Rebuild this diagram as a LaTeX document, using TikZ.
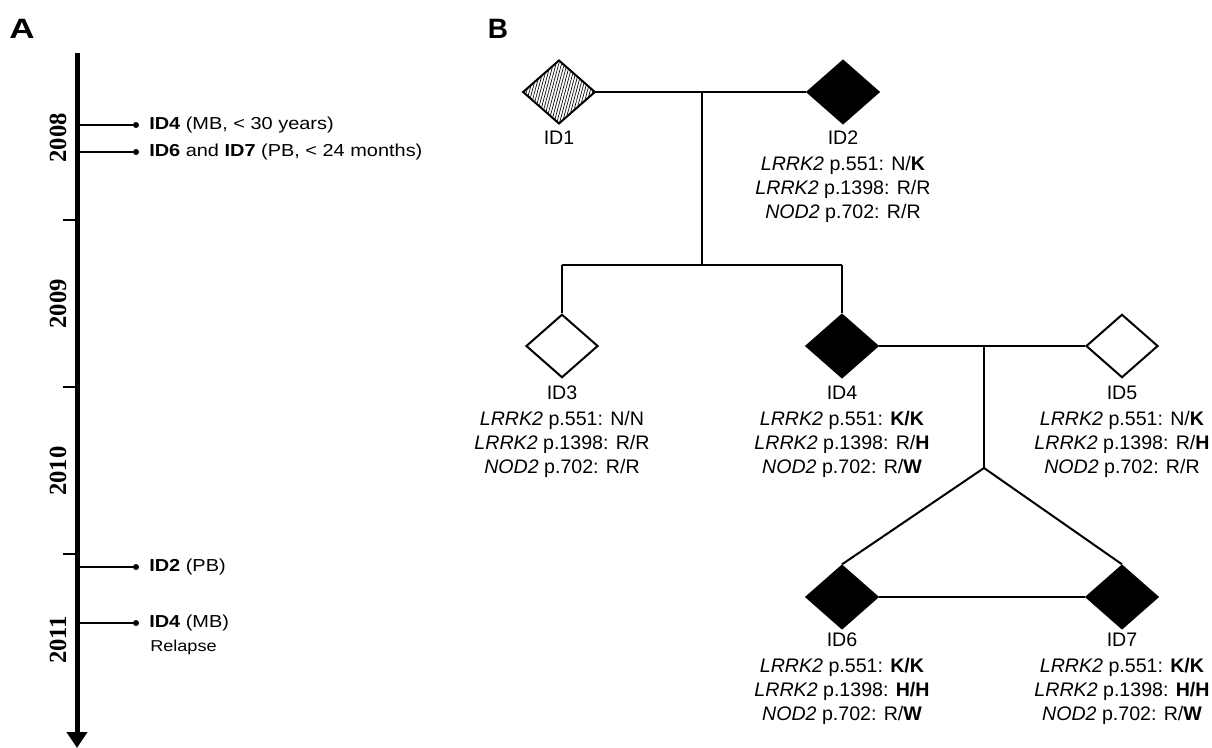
\documentclass[tikz,border=0pt]{standalone}
\usepackage{fontspec}
\setmainfont{Liberation Sans}
\newfontfamily\yearfont{Liberation Serif}
\newfontfamily\tlfont{Liberation Sans}[FakeStretch=1.15]
\newfontfamily\pafont{Liberation Sans}[FakeStretch=1.25]
\usetikzlibrary{shapes.geometric,arrows.meta,patterns.meta}
\begin{document}
\begin{tikzpicture}[x=0.75pt,y=-0.75pt,
  ind/.style={diamond,draw,line width=1.5pt,minimum width=54pt,minimum height=47.5pt,inner sep=0pt},
  aff/.style={ind,fill=black},
  unaff/.style={ind,fill=white},
  hatch/.style={ind,pattern={Lines[angle=75,distance=2pt,line width=0.5pt]}},
  rel/.style={line width=1.5pt},
  lbl/.style={font=\fontsize{14.7}{18}\selectfont,align=center,inner sep=0pt,anchor=north},
  evt/.style={font=\tlfont\fontsize{13}{15}\selectfont,inner sep=0pt,anchor=west},
  year/.style={font=\yearfont\bfseries\fontsize{18.5}{20}\selectfont,rotate=90,inner sep=0pt},
  panel/.style={font=\bfseries\fontsize{21}{24}\selectfont,inner sep=0pt},
  dot/.style={circle,fill=black,inner sep=0pt,minimum size=4.5pt},
  evline/.style={line width=0.8pt},
  tick/.style={line width=1.2pt}
]
\useasboundingbox (0,0) rectangle (1212,748);

% panel letters
\node[panel,font=\pafont\bfseries\fontsize{21}{24}\selectfont] (pA) at (22,29) {A};
\node[panel] (pB) at (498,29) {B};

% timeline
\coordinate (ttop) at (77,53);
\coordinate (tbot) at (77,748);
\draw[line width=3.75pt,-{Triangle[width=15pt,length=12pt]}] (ttop) -- (tbot);
\foreach \y/\n in {220/k1,387/k2,554/k3}{
  \coordinate (\n) at (63,\y);
  \draw[tick] (\n) -- (ttop |- \n);
}
\node[year] (y8) at (58,138) {2008};
\node[year] (y9) at (58,304) {2009};
\node[year] (y10) at (58,471) {2010};
\node[year] (y11) at (58,640) {2011};

\foreach \y/\n in {125/e1,152/e2,567/e3,623/e4}{
  \coordinate (\n a) at (77,\y);
  \node[dot] (\n) at (136,\y) {};
  \draw[evline] (\n a) -- (\n);
}
\node[evt] (t1) at (149,125) {\textbf{ID4} (MB, < 30 years)};
\node[evt] (t2) at (149,152) {\textbf{ID6} and \textbf{ID7} (PB, < 24 months)};
\node[evt] (t3) at (149,567) {\textbf{ID2} (PB)};
\node[evt] (t4) at (149,623) {\textbf{ID4} (MB)};
\node[evt,font=\tlfont\fontsize{11.8}{13}\selectfont] (t5) at (150,647) {Relapse};

% pedigree
\node[hatch] (id1) at (559,92) {};
\node[aff] (id2) at (843,92) {};
\draw[rel] (id1) -- (id2);
\coordinate (m12) at (702,92);
\coordinate (s1) at (702,265);
\draw[rel] (m12) -- (s1);
\coordinate (s3) at (562,265);
\coordinate (s4) at (842,265);
\draw[rel] (s3) -- (s4);
\node[unaff] (id3) at (562,346) {};
\node[aff] (id4) at (842,346) {};
\draw[rel] (s3) -- (id3.north);
\draw[rel] (s4) -- (id4.north);
\node[unaff] (id5) at (1122,346) {};
\draw[rel] (id4) -- (id5);
\coordinate (m45) at (984,346);
\coordinate (tw) at (984,468);
\draw[rel] (m45) -- (tw);
\node[aff] (id6) at (842,597) {};
\node[aff] (id7) at (1122,597) {};
\draw[rel] (id6.north) -- (tw) -- (id7.north);
\draw[rel] (id6) -- (id7);

% labels
\node[lbl] (l1) at (559,131) {ID1};
\node[lbl] (l2) at (843,131) {ID2\\[1.5pt]
  \textit{LRRK2} p.551: N/\textbf{K}\\
  \textit{LRRK2} p.1398: R/R\\
  \textit{NOD2} p.702: R/R};
\node[lbl] (l3) at (562,386) {ID3\\[1pt]
  \textit{LRRK2} p.551: N/N\\
  \textit{LRRK2} p.1398: R/R\\
  \textit{NOD2} p.702: R/R};
\node[lbl] (l4) at (842,386) {ID4\\[1pt]
  \textit{LRRK2} p.551: \textbf{K/K}\\
  \textit{LRRK2} p.1398: R/\textbf{H}\\
  \textit{NOD2} p.702: R/\textbf{W}};
\node[lbl] (l5) at (1122,386) {ID5\\[1pt]
  \textit{LRRK2} p.551: N/\textbf{K}\\
  \textit{LRRK2} p.1398: R/\textbf{H}\\
  \textit{NOD2} p.702: R/R};
\node[lbl] (l6) at (842,633) {ID6\\[1.5pt]
  \textit{LRRK2} p.551: \textbf{K/K}\\
  \textit{LRRK2} p.1398: \textbf{H/H}\\
  \textit{NOD2} p.702: R/\textbf{W}};
\node[lbl] (l7) at (1122,633) {ID7\\[1.5pt]
  \textit{LRRK2} p.551: \textbf{K/K}\\
  \textit{LRRK2} p.1398: \textbf{H/H}\\
  \textit{NOD2} p.702: R/\textbf{W}};
\end{tikzpicture}
\end{document}
